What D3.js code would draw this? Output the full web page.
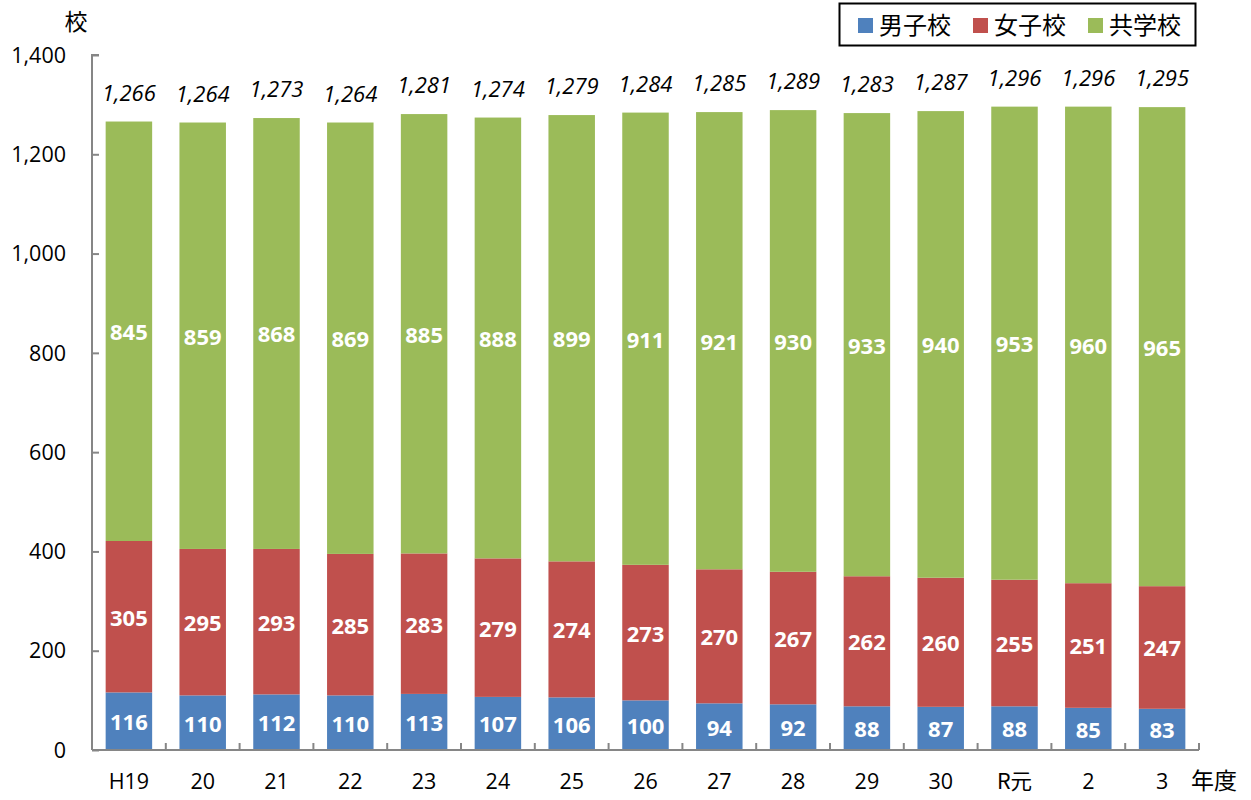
<!DOCTYPE html>
<html>
<head>
<meta charset="utf-8">
<script src="https://cdn.jsdelivr.net/npm/d3@7"></script>
<style>
  body { margin: 0; background: #fff; }
  svg { display: block; }
</style>
</head>
<body>
<svg id="chart" width="1251" height="800"></svg>
<script>
// School counts by type, per fiscal year
const categories = ["H19", "20", "21", "22", "23", "24", "25", "26", "27", "28", "29", "30", "R元", "2", "3"];
const boys  = [116, 110, 112, 110, 113, 107, 106, 100, 94, 92, 88, 87, 88, 85, 83];
const girls = [305, 295, 293, 285, 283, 279, 274, 273, 270, 267, 262, 260, 255, 251, 247];
const coed  = [845, 859, 868, 869, 885, 888, 899, 911, 921, 930, 933, 940, 953, 960, 965];
const seriesNames = ["男子校", "女子校", "共学校"];
const seriesColors = ["#4F81BD", "#C0504D", "#9BBB59"];
const yTicks = [0, 200, 400, 600, 800, 1000, 1200, 1400];

const svg = d3.select("#chart");
const plotLeft = 92, plotRight = 1199, plotTop = 55, plotBottom = 750;
const font = "'Open Sans', 'Noto Sans', sans-serif";
const cjk = "'Noto Sans CJK JP', 'Noto Sans', sans-serif";

const x = d3.scaleBand().domain(categories).range([plotLeft, plotRight]).padding(0);
const y = d3.scaleLinear().domain([0, 1400]).range([plotBottom, plotTop]);
const barW = x.bandwidth() * 0.63;

const rows = categories.map((c, i) => ({ cat: c, vals: [boys[i], girls[i], coed[i]] }));
const fmt = d3.format(",");

// Stacked bars
rows.forEach(r => {
  let acc = 0;
  const cx = x(r.cat) + x.bandwidth() / 2;
  r.vals.forEach((v, k) => {
    const y0 = acc, y1 = acc + v;
    svg.append("rect")
      .attr("x", cx - barW / 2)
      .attr("y", y(y1))
      .attr("width", barW)
      .attr("height", y(y0) - y(y1))
      .attr("fill", seriesColors[k]);
    svg.append("text")
      .attr("x", cx)
      .attr("y", (y(y0) + y(y1)) / 2 + 1)
      .attr("dy", "0.36em")
      .attr("text-anchor", "middle")
      .attr("fill", "#fff")
      .attr("font-family", font)
      .attr("font-weight", "bold")
      .attr("font-size", 22)
      .text(fmt(v));
    acc = y1;
  });
  // Total above bar
  svg.append("text")
    .attr("x", cx)
    .attr("y", y(acc) - 21)
    .attr("text-anchor", "middle")
    .attr("fill", "#000")
    .attr("font-family", font)
    .attr("font-style", "italic")
    .attr("font-size", 22)
    .text(fmt(acc));
});

// Y axis
const yAxis = d3.axisRight(y).tickValues(yTicks).tickSize(7).tickFormat("");
const gy = svg.append("g").attr("transform", `translate(${plotLeft},0)`).call(yAxis);
gy.select(".domain").attr("stroke", "#868686").attr("stroke-width", 2).attr("d", `M7,${plotTop}H0V${plotBottom}`);
gy.selectAll(".tick line").attr("stroke", "#868686").attr("stroke-width", 2);
yTicks.forEach(t => {
  svg.append("text")
    .attr("x", 66)
    .attr("y", y(t))
    .attr("dy", "0.36em")
    .attr("text-anchor", "end")
    .attr("font-family", font)
    .attr("font-size", 21.5)
    .attr("fill", "#000")
    .text(fmt(t));
});

// X axis with ticks at category boundaries
const gx = svg.append("g");
gx.append("line").attr("x1", plotLeft).attr("x2", plotRight).attr("y1", plotBottom).attr("y2", plotBottom)
  .attr("stroke", "#868686").attr("stroke-width", 2);
categories.forEach((c, i) => {
  const bx = x(c) + x.bandwidth();
  gx.append("line").attr("x1", bx).attr("x2", bx).attr("y1", plotBottom).attr("y2", plotBottom - 7)
    .attr("stroke", "#868686").attr("stroke-width", 2);
  svg.append("text")
    .attr("x", x(c) + x.bandwidth() / 2)
    .attr("y", 781)
    .attr("dy", "0.36em")
    .attr("text-anchor", "middle")
    .attr("font-family", c === "R元" ? cjk : font)
    .attr("font-size", 21.5)
    .attr("fill", "#000")
    .text(c);
});

// Axis titles
svg.append("text").attr("x", 76).attr("y", 22).attr("dy", "0.36em").attr("text-anchor", "middle")
  .attr("font-family", cjk).attr("font-size", 23).attr("fill", "#000").text("校");
svg.append("text").attr("x", 1214).attr("y", 781).attr("dy", "0.36em").attr("text-anchor", "middle")
  .attr("font-family", cjk).attr("font-size", 23).attr("fill", "#000").text("年度");

// Legend
const lg = svg.append("g");
lg.append("rect").attr("x", 839.5).attr("y", 3.5).attr("width", 356).attr("height", 42)
  .attr("fill", "#fff").attr("stroke", "#000").attr("stroke-width", 2);
const legendX = [858, 973, 1088];
seriesNames.forEach((n, k) => {
  lg.append("rect").attr("x", legendX[k]).attr("y", 18).attr("width", 15).attr("height", 15)
    .attr("fill", seriesColors[k]);
  lg.append("text").attr("x", legendX[k] + 21).attr("y", 25).attr("dy", "0.36em")
    .attr("font-family", cjk).attr("font-size", 24).attr("fill", "#000").text(n);
});
</script>
</body>
</html>
